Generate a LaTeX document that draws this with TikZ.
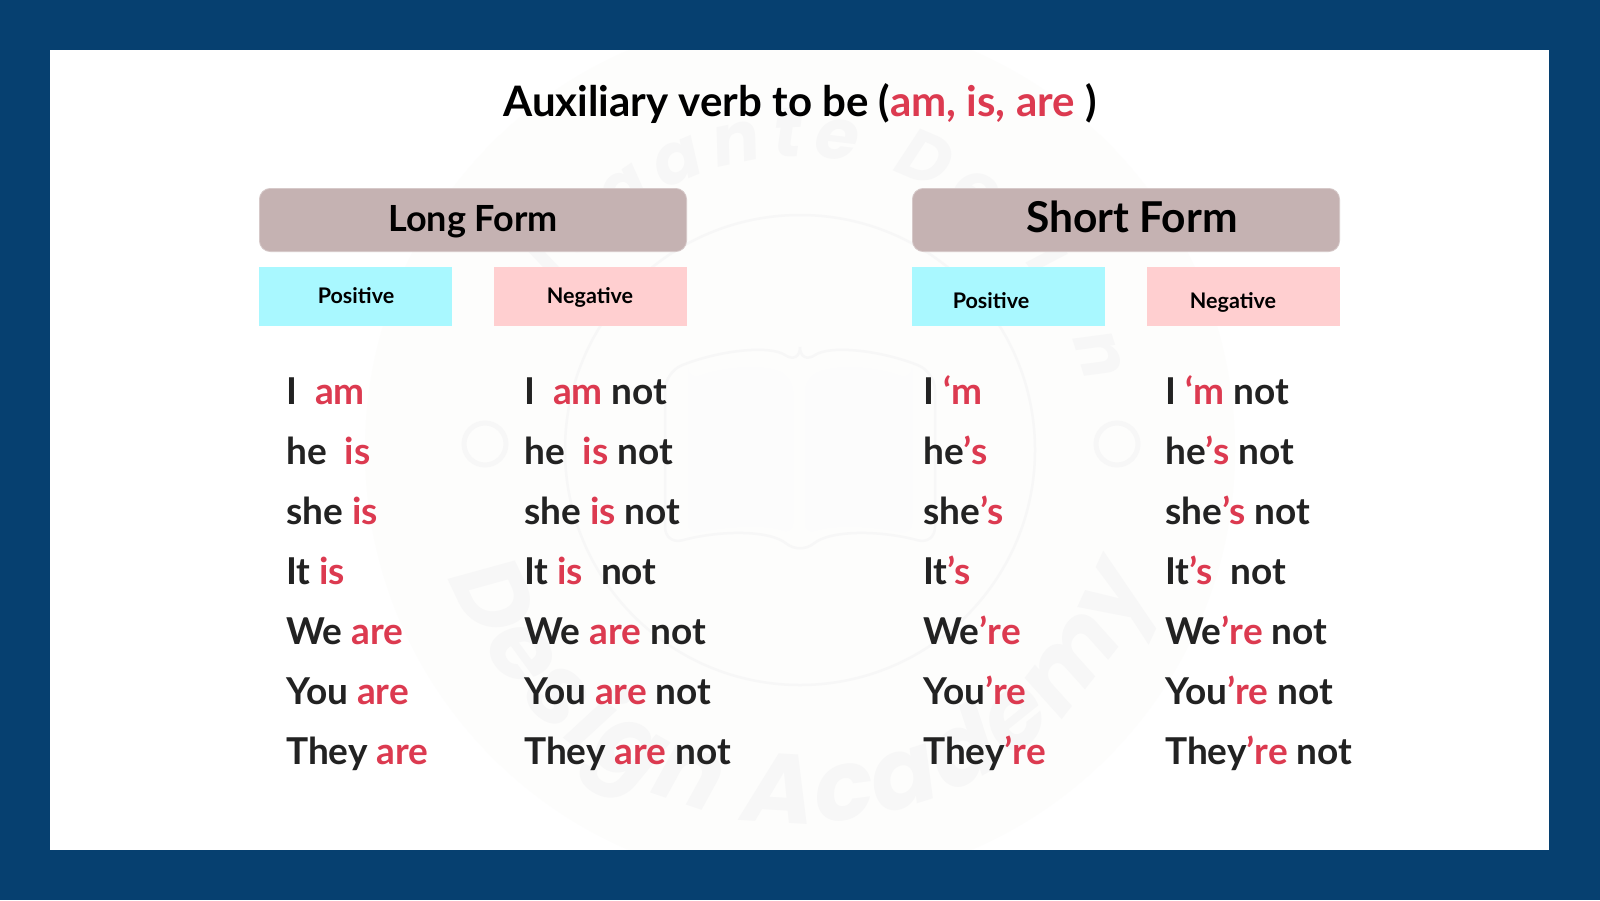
\documentclass[tikz,border=0pt]{standalone}
\usepackage{fontspec}
\setmainfont{Lato Bold}
\newfontfamily\markfont{Poppins}
\usetikzlibrary{decorations.text}
\definecolor{navyband}{HTML}{064070}
\definecolor{verbred}{HTML}{DC3A50}
\definecolor{inktext}{HTML}{222222}
\definecolor{formbox}{HTML}{C5B2B2}
\definecolor{posbox}{HTML}{A9F8FF}
\definecolor{negbox}{HTML}{FFCFD0}
\definecolor{markline}{HTML}{F7F7F7}
\definecolor{markdisc}{HTML}{FDFDFC}
\newcommand{\rd}[1]{\textcolor{verbred}{#1}}
\tikzset{
  formhead/.style={fill=formbox,draw=formbox!70!white,rounded corners=11pt,line width=0.8pt},
  formlabel/.style={anchor=base,text=black,inner sep=0pt},
  posfield/.style={fill=posbox},
  negfield/.style={fill=negbox},
  fieldlabel/.style={anchor=base,text=black,inner sep=0pt,font=\fontsize{21.5}{25}\selectfont},
  rowtext/.style={anchor=base west,text=inktext,inner sep=0pt,font=\fontsize{37}{43}\selectfont},
}
\begin{document}
\begin{tikzpicture}[x=1pt,y=-1pt]
      \useasboundingbox (0,0) rectangle (1600,900);
      \fill[navyband] (0,0) rectangle (1600,900);
      \fill[white] (50,50) rectangle (1549,850);
      % faint mark behind the tables
      \begin{scope}
        \clip (50,50) rectangle (1549,849.4);
        \fill[markdisc] (800,450) circle (435);
      \end{scope}
      \draw[markline,line width=2.5pt] (800,450) circle (235);
      \draw[markline,line width=5pt] (485,444) circle (21);
      \draw[markline,line width=5pt] (1117,444) circle (21);
      \draw[markline,line width=2.5pt,rounded corners=18pt] (800,365) .. controls (770,345) and (720,350) .. (665,372) -- (665,545) .. controls (720,530) and (770,530) .. (800,555) .. controls (830,530) and (880,530) .. (935,545) -- (935,372) .. controls (880,350) and (830,345) .. (800,365) -- cycle;
      \fill[markline!40!white,rounded corners=12pt] (688,380) -- (688,535) .. controls (730,525) and (770,525) .. (793,535) -- (793,380) .. controls (770,365) and (730,365) .. (688,380) -- cycle;
      \fill[markline!40!white,rounded corners=12pt] (912,380) -- (912,535) .. controls (870,525) and (830,525) .. (805,535) -- (805,380) .. controls (830,365) and (870,365) .. (912,380) -- cycle;
      \path[decorate,decoration={text along path,text align={fit to path},
        text={|\fontsize{70}{70}\markfont\bfseries\itshape\color{markline}|Elegante Design}}]
        (800,450) ++(205:293) arc[start angle=205,end angle=347,radius=293];
      \path[decorate,decoration={text along path,text align={fit to path},
        text={|\fontsize{98}{98}\markfont\bfseries\itshape\color{markline}|Design Academy}}]
        (800,450) ++(160:373) arc[start angle=160,end angle=20,radius=373];
      % title
      \node[anchor=base,text=black,inner sep=0pt,font=\fontsize{42}{48}\selectfont] (title) at (800,116) {Auxiliary verb to be (\rd{am, is, are} )};
      % form heads
      \filldraw[formhead] (259.4,188.4) rectangle (686.6,251.6);
      \filldraw[formhead] (912.4,188.4) rectangle (1339.6,251.6);
      \node[formlabel,font=\fontsize{36}{42}\selectfont] (longhead) at (473,231) {Long Form};
      \node[formlabel,font=\fontsize{42.5}{50}\selectfont] (shorthead) at (1132,232) {Short Form};
      % sign fields
      \fill[posfield] (259,267) rectangle (452,326);
      \fill[negfield] (494,267) rectangle (687,326);
      \fill[posfield] (912,267) rectangle (1105,326);
      \fill[negfield] (1147,267) rectangle (1340,326);
      \node[fieldlabel] (longpos) at (356,303) {Positive};
      \node[fieldlabel] (longneg) at (590,303) {Negative};
      \node[fieldlabel] (shortpos) at (991,308) {Positive};
      \node[fieldlabel] (shortneg) at (1233,308) {Negative};
      % long form, positive
      \node[rowtext] (lp1) at (286,404) {I\ \ \rd{am}};
      \node[rowtext] (lp2) at (286,464) {he\ \ \rd{is}};
      \node[rowtext] (lp3) at (286,524) {she \rd{is}};
      \node[rowtext] (lp4) at (286,584) {It \rd{is}};
      \node[rowtext] (lp5) at (286,644) {We \rd{are}};
      \node[rowtext] (lp6) at (286,704) {You \rd{are}};
      \node[rowtext] (lp7) at (286,764) {They \rd{are}};
      % long form, negative
      \node[rowtext] (ln1) at (524,404) {I\ \ \rd{am} not};
      \node[rowtext] (ln2) at (524,464) {he\ \ \rd{is} not};
      \node[rowtext] (ln3) at (524,524) {she \rd{is} not};
      \node[rowtext] (ln4) at (524,584) {It \rd{is}\ \ not};
      \node[rowtext] (ln5) at (524,644) {We \rd{are} not};
      \node[rowtext] (ln6) at (524,704) {You \rd{are} not};
      \node[rowtext] (ln7) at (524,764) {They \rd{are} not};
      % short form, positive
      \node[rowtext] (sp1) at (923,404) {I \rd{‘m}};
      \node[rowtext] (sp2) at (923,464) {he\rd{’s}};
      \node[rowtext] (sp3) at (923,524) {she\rd{’s}};
      \node[rowtext] (sp4) at (923,584) {It\rd{’s}};
      \node[rowtext] (sp5) at (923,644) {We\rd{’re}};
      \node[rowtext] (sp6) at (923,704) {You\rd{’re}};
      \node[rowtext] (sp7) at (923,764) {They\rd{’re}};
      % short form, negative
      \node[rowtext] (sn1) at (1165,404) {I \rd{‘m} not};
      \node[rowtext] (sn2) at (1165,464) {he\rd{’s} not};
      \node[rowtext] (sn3) at (1165,524) {she\rd{’s} not};
      \node[rowtext] (sn4) at (1165,584) {It\rd{’s}\ \ not};
      \node[rowtext] (sn5) at (1165,644) {We\rd{’re} not};
      \node[rowtext] (sn6) at (1165,704) {You\rd{’re} not};
      \node[rowtext] (sn7) at (1165,764) {They\rd{’re} not};
\end{tikzpicture}
\end{document}
